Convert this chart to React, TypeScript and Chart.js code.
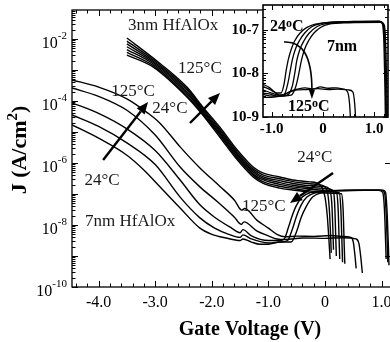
import React, { useEffect, useRef } from "react";
import { Chart, registerables } from "chart.js";

Chart.register(...registerables);

type Pt = [number, number]; // [gate voltage (V), log10 of J (A/cm^2)]

// ---------------- main panel: 3 nm HfAlOx, 125 °C (top) ... 24 °C (bottom) ----------------
const nm3_1: Pt[] = [[-3.5, -1.97], [-3.04, -2.61], [-2.44, -3.55], [-2.16, -4.19], [-1.86, -4.84], [-1.55, -5.58], [-1.27, -6.13], [-1.1, -6.32], [-0.8, -6.45], [-0.57, -6.55], [-0.27, -6.61], [-0.15, -6.64], [-0.05, -6.8], [0.0, -7.1], [0.04, -7.7], [0.07, -8.5], [0.09, -9.1]];
const nm3_2: Pt[] = [[-3.5, -2.07], [-3.04, -2.66], [-2.44, -3.6], [-2.16, -4.23], [-1.86, -4.9], [-1.55, -5.64], [-1.27, -6.19], [-1.1, -6.38], [-0.8, -6.51], [-0.57, -6.6], [-0.27, -6.67], [-0.1, -6.7], [0.0, -6.78], [0.05, -7.0], [0.08, -7.6], [0.1, -8.4], [0.11, -8.9]];
const nm3_3: Pt[] = [[-3.5, -2.16], [-3.04, -2.71], [-2.44, -3.65], [-2.16, -4.28], [-1.86, -4.95], [-1.55, -5.7], [-1.27, -6.24], [-1.1, -6.44], [-0.8, -6.57], [-0.57, -6.66], [-0.27, -6.73], [0.0, -6.76], [0.08, -6.85], [0.12, -7.3], [0.14, -8.2], [0.15, -8.8]];
const nm3_4: Pt[] = [[-3.5, -2.25], [-3.04, -2.75], [-2.44, -3.71], [-2.16, -4.32], [-1.86, -5.0], [-1.55, -5.74], [-1.27, -6.29], [-1.1, -6.49], [-0.8, -6.63], [-0.57, -6.72], [-0.27, -6.79], [0.0, -6.82], [0.14, -6.88], [0.17, -7.3], [0.19, -8.4], [0.2, -9.0]];
const nm3_5: Pt[] = [[-3.5, -2.34], [-3.04, -2.8], [-2.44, -3.76], [-2.16, -4.36], [-1.86, -5.05], [-1.55, -5.8], [-1.27, -6.35], [-1.1, -6.54], [-0.8, -6.69], [-0.57, -6.77], [-0.27, -6.84], [0.0, -6.88], [0.2, -6.93], [0.23, -7.4], [0.25, -8.5], [0.26, -9.1]];
const nm3_6: Pt[] = [[-3.5, -2.43], [-3.04, -2.85], [-2.44, -3.82], [-2.16, -4.41], [-1.86, -5.1], [-1.55, -5.85], [-1.27, -6.4], [-1.1, -6.6], [-0.8, -6.75], [-0.57, -6.82], [-0.27, -6.9], [0.0, -6.93], [0.25, -6.96], [0.28, -7.5], [0.3, -8.6], [0.31, -9.2]];
const nm3_7: Pt[] = [[-3.5, -2.52], [-3.04, -2.9], [-2.44, -3.87], [-2.16, -4.45], [-1.86, -5.16], [-1.55, -5.9], [-1.27, -6.45], [-1.1, -6.65], [-0.8, -6.81], [-0.57, -6.87], [-0.27, -6.94], [0.0, -6.97], [0.29, -6.99], [0.32, -7.5], [0.34, -8.7], [0.35, -9.25]];

// ---------------- main panel: 7 nm HfAlOx, 125 °C (top) ... 24 °C (bottom) ----------------
const nm7_1: Pt[] = [[-4.47, -3.32], [-4.0, -3.55], [-3.5, -3.93], [-3.13, -4.39], [-2.92, -4.71], [-2.56, -5.48], [-2.21, -6.16], [-1.86, -6.75], [-1.6, -7.2], [-1.47, -7.52], [-1.42, -7.47], [-1.2, -7.85], [-1.0, -8.1], [-0.85, -8.3], [-0.7, -8.38], [-0.5, -8.36], [-0.2, -8.37], [0.1, -8.34], [0.3, -8.37], [0.46, -8.4], [0.5, -8.55], [0.53, -9.0], [0.55, -9.4]];
const nm7_2: Pt[] = [[-4.47, -3.58], [-4.0, -3.85], [-3.5, -4.3], [-3.0, -5.1], [-2.56, -6.13], [-2.21, -6.77], [-1.9, -7.25], [-1.6, -7.75], [-1.48, -7.98], [-1.43, -7.9], [-1.2, -8.2], [-1.0, -8.35], [-0.85, -8.45], [-0.7, -8.47], [-0.4, -8.42], [0.0, -8.43], [0.3, -8.41], [0.55, -8.45], [0.6, -8.6], [0.63, -9.0], [0.66, -9.55]];
const nm7_3: Pt[] = [[-4.47, -4.06], [-4.0, -4.4], [-3.5, -4.9], [-3.0, -5.6], [-2.56, -6.55], [-2.21, -7.35], [-1.95, -7.75], [-1.65, -8.1], [-1.5, -8.25], [-1.45, -8.15], [-1.3, -8.35], [-1.0, -8.5], [-0.8, -8.5], [-0.72, -8.45], [-0.65, -8.1], [-0.58, -7.7], [-0.5, -7.35], [-0.4, -7.1], [-0.25, -6.95], [0.0, -6.9], [0.5, -6.88], [0.95, -6.88], [1.02, -6.95], [1.05, -7.5], [1.07, -8.5], [1.08, -9.1]];
const nm7_4: Pt[] = [[-4.47, -4.45], [-4.0, -4.82], [-3.5, -5.35], [-3.0, -6.05], [-2.56, -7.1], [-2.21, -7.77], [-1.95, -8.1], [-1.7, -8.3], [-1.5, -8.4], [-1.45, -8.32], [-1.3, -8.45], [-1.0, -8.58], [-0.8, -8.55], [-0.66, -8.5], [-0.58, -8.15], [-0.5, -7.7], [-0.42, -7.35], [-0.32, -7.1], [-0.15, -6.95], [0.1, -6.9], [0.6, -6.88], [1.0, -6.88], [1.05, -6.95], [1.08, -7.6], [1.1, -8.6], [1.11, -9.2]];
const nm7_5: Pt[] = [[-4.47, -4.77], [-4.0, -5.2], [-3.5, -5.75], [-3.21, -6.21], [-2.9, -6.8], [-2.56, -7.45], [-2.21, -8.1], [-2.0, -8.3], [-1.75, -8.42], [-1.5, -8.5], [-1.45, -8.45], [-1.3, -8.55], [-1.15, -8.62], [-1.0, -8.62], [-0.8, -8.55], [-0.6, -8.55], [-0.5, -8.2], [-0.42, -7.75], [-0.33, -7.4], [-0.22, -7.1], [-0.05, -6.95], [0.2, -6.9], [0.7, -6.88], [1.03, -6.88], [1.07, -6.95], [1.1, -7.7], [1.12, -8.7], [1.13, -9.3]];

// ---------------- inset: 7 nm, 24 °C (rising) and 125 °C (flat) ----------------
const in24_1: Pt[] = [[-1.17, -8.3], [-1.05, -8.36], [-0.9, -8.45], [-0.82, -8.45], [-0.76, -8.25], [-0.72, -7.95], [-0.68, -7.7], [-0.62, -7.45], [-0.55, -7.25], [-0.45, -7.08], [-0.32, -6.95], [-0.15, -6.87], [0.1, -6.83], [0.6, -6.81], [1.1, -6.8], [1.16, -6.86], [1.19, -7.3], [1.21, -8.3], [1.22, -9.2]];
const in24_2: Pt[] = [[-1.17, -8.38], [-1.0, -8.45], [-0.85, -8.5], [-0.75, -8.47], [-0.68, -8.2], [-0.64, -7.95], [-0.6, -7.7], [-0.54, -7.45], [-0.46, -7.25], [-0.36, -7.08], [-0.22, -6.93], [-0.05, -6.86], [0.3, -6.82], [1.1, -6.81], [1.18, -6.87], [1.21, -7.4], [1.23, -8.4], [1.24, -9.2]];
const in24_3: Pt[] = [[-1.17, -8.48], [-1.0, -8.52], [-0.85, -8.52], [-0.7, -8.5], [-0.6, -8.3], [-0.55, -8.0], [-0.51, -7.7], [-0.45, -7.45], [-0.37, -7.25], [-0.27, -7.08], [-0.12, -6.93], [0.05, -6.86], [0.4, -6.83], [1.12, -6.82], [1.2, -6.9], [1.23, -7.5], [1.25, -8.5], [1.26, -9.2]];
const in24_4: Pt[] = [[-1.17, -8.55], [-1.0, -8.55], [-0.8, -8.52], [-0.62, -8.5], [-0.53, -8.3], [-0.47, -8.0], [-0.42, -7.7], [-0.36, -7.45], [-0.28, -7.25], [-0.18, -7.08], [-0.04, -6.94], [0.12, -6.87], [0.5, -6.84], [1.12, -6.83], [1.18, -6.88], [1.2, -7.2], [1.22, -8.2], [1.23, -9.2]];
const in125_1: Pt[] = [[-1.17, -8.25], [-1.05, -8.32], [-0.95, -8.42], [-0.85, -8.5], [-0.75, -8.48], [-0.62, -8.4], [-0.5, -8.36], [-0.35, -8.33], [-0.2, -8.36], [-0.05, -8.31], [0.1, -8.34], [0.25, -8.33], [0.4, -8.36], [0.48, -8.42], [0.52, -8.7], [0.54, -9.1], [0.55, -9.4]];
const in125_2: Pt[] = [[-1.17, -8.45], [-1.05, -8.47], [-0.9, -8.52], [-0.8, -8.5], [-0.65, -8.43], [-0.5, -8.38], [-0.3, -8.37], [-0.1, -8.35], [0.1, -8.37], [0.3, -8.36], [0.5, -8.38], [0.58, -8.42], [0.62, -8.7], [0.64, -9.1], [0.65, -9.4]];

// ---------------- axis ticks / labels ----------------
const MAIN_X_TICKS = [-4, -3, -2, -1, 0, 1];
const MAIN_Y_LABEL_EXP = [-2, -4, -6, -8, -10];
const MAIN_RIGHT_TICK_EXP = [-3, -6, -9];
const INSET_X_TICKS = [-1, 0, 1];
const INSET_Y_EXP = [-7, -8, -9];

const SERIF = '"Liberation Serif", "Times New Roman", Times, serif';

// annotation anchors in data coordinates [V, log10 J]
const MAIN_TEXT: { text: string; at: Pt; align: CanvasTextAlign }[] = [
  { text: "3nm HfAlOx", at: [-3.48, -1.58], align: "left" },
  { text: "125°C", at: [-2.21, -2.94], align: "center" },
  { text: "24°C", at: [-2.74, -4.23], align: "center" },
  { text: "125°C", at: [-3.39, -3.71], align: "center" },
  { text: "24°C", at: [-3.94, -6.55], align: "center" },
  { text: "7nm HfAlOx", at: [-4.24, -7.9], align: "left" },
  { text: "24°C", at: [-0.18, -5.81], align: "center" },
  { text: "125°C", at: [-1.08, -7.42], align: "center" },
];
const MAIN_ARROWS: [Pt, Pt][] = [
  [[-2.385, -4.71], [-1.855, -3.74]],
  [[-3.92, -5.9], [-3.127, -4.03]],
  [[0.141, -6.32], [-0.618, -7.29]],
];
const INSET_TEXT: { parts: [string, boolean][]; at: Pt }[] = [
  { parts: [["24", false], ["o", true], ["C", false]], at: [-1.035, -6.94] },
  { parts: [["7nm", false]], at: [0.078, -7.39] },
  { parts: [["125", false], ["o", true], ["C", false]], at: [-0.683, -8.77] },
];
const INSET_ARROW: Pt[] = [[-0.761, -7.28], [-0.215, -7.234], [-0.215, -8.587]];

function toData(s: Pt[]) {
  return s.map(([v, l]) => ({ x: v, y: Math.pow(10, l) }));
}

function lineSet(s: Pt[], w = 1.4) {
  return {
    data: toData(s),
    borderColor: "#000",
    borderWidth: w,
    pointRadius: 0,
    fill: false,
    cubicInterpolationMode: "monotone" as const,
  };
}

function rich(
  ctx: CanvasRenderingContext2D,
  parts: [string, boolean][],
  x: number,
  y: number,
  align: string,
  size: number,
  supSize: number,
  bold: boolean,
  rise: number
) {
  const f = (sup: boolean) => `${bold ? "bold " : ""}${sup ? supSize : size}px ${SERIF}`;
  let total = 0;
  for (const [t, sup] of parts) {
    ctx.font = f(sup);
    total += ctx.measureText(t).width;
  }
  let cx = align === "left" ? x : align === "right" ? x - total : x - total / 2;
  ctx.textAlign = "left";
  ctx.textBaseline = "middle";
  for (const [t, sup] of parts) {
    ctx.font = f(sup);
    ctx.fillText(t, cx, sup ? y - rise : y);
    cx += ctx.measureText(t).width;
  }
}

function arrowHead(ctx: CanvasRenderingContext2D, x1: number, y1: number, ang: number, len: number, w: number) {
  const bx = x1 - len * Math.cos(ang);
  const by = y1 - len * Math.sin(ang);
  ctx.beginPath();
  ctx.moveTo(x1, y1);
  ctx.lineTo(bx + (w / 2) * Math.sin(ang), by - (w / 2) * Math.cos(ang));
  ctx.lineTo(bx - (w / 2) * Math.sin(ang), by + (w / 2) * Math.cos(ang));
  ctx.closePath();
  ctx.fill();
  return [bx, by];
}

const mainDecor = {
  id: "mainDecor",
  afterDraw(chart: any) {
    const { ctx, chartArea: a } = chart;
    const xs = chart.scales.x;
    const ys = chart.scales.y;
    const X = (v: number) => xs.getPixelForValue(v);
    const Y = (l: number) => ys.getPixelForValue(Math.pow(10, l));
    const top = Math.log10(ys.max);
    ctx.save();
    ctx.strokeStyle = "#000";
    ctx.fillStyle = "#000";
    ctx.lineWidth = 1.3;
    ctx.strokeRect(a.left, a.top, a.right - a.left, a.bottom - a.top);
    ctx.lineWidth = 1;
    ctx.beginPath();
    for (let k = -22; k <= 5; k++) {
      const px = Math.round(X(k / 5)) + 0.5;
      const len = k % 5 === 0 ? 6 : 3.5;
      ctx.moveTo(px, a.bottom);
      ctx.lineTo(px, a.bottom - len);
      ctx.moveTo(px, a.top);
      ctx.lineTo(px, a.top + len);
    }
    for (let d = -10; d <= -2; d++) {
      for (let m = 1; m <= 9; m++) {
        const l = d + Math.log10(m);
        if (l > top) continue;
        const py = Math.round(Y(l)) + 0.5;
        const len = m === 1 ? 6 : 3.5;
        ctx.moveTo(a.left, py);
        ctx.lineTo(a.left + len, py);
      }
    }
    for (const d of MAIN_RIGHT_TICK_EXP) {
      const py = Math.round(Y(d)) + 0.5;
      ctx.moveTo(a.right, py);
      ctx.lineTo(a.right - 6, py);
    }
    ctx.stroke();

    // y tick labels 10^n
    for (const e of MAIN_Y_LABEL_EXP) {
      const py = Y(e);
      rich(ctx, [["10", false], [String(e), true]], 67, py + 5, "right", 16, 11, false, 8);
    }

    // axis titles
    ctx.textAlign = "center";
    ctx.textBaseline = "middle";
    ctx.font = `bold 20px ${SERIF}`;
    ctx.fillText("Gate Voltage (V)", 250, 330);
    ctx.save();
    ctx.translate(20, 150);
    ctx.rotate(-Math.PI / 2);
    rich(ctx, [["J (A/cm", false], ["2", true], [")", false]], 0, 0, "center", 22, 15, true, 7);
    ctx.restore();

    // annotations
    ctx.fillStyle = "#1a1a1a";
    ctx.font = `17px ${SERIF}`;
    ctx.textBaseline = "middle";
    for (const t of MAIN_TEXT) {
      ctx.textAlign = t.align;
      ctx.fillText(t.text, X(t.at[0]), Y(t.at[1]));
    }
    ctx.fillStyle = "#000";
    ctx.strokeStyle = "#000";
    ctx.lineWidth = 2.4;
    for (const [p0, p1] of MAIN_ARROWS) {
      const x0 = X(p0[0]), y0 = Y(p0[1]), x1 = X(p1[0]), y1 = Y(p1[1]);
      const ang = Math.atan2(y1 - y0, x1 - x0);
      const [bx, by] = arrowHead(ctx, x1, y1, ang, 12, 10);
      ctx.beginPath();
      ctx.moveTo(x0, y0);
      ctx.lineTo(bx, by);
      ctx.stroke();
    }
    ctx.restore();
  },
};

const insetDecor = {
  id: "insetDecor",
  beforeDatasetsDraw(chart: any) {
    const { ctx, chartArea: a } = chart;
    ctx.save();
    ctx.fillStyle = "#fff";
    ctx.fillRect(a.left, a.top, a.right - a.left, a.bottom - a.top);
    ctx.restore();
  },
  afterDraw(chart: any) {
    const { ctx, chartArea: a } = chart;
    const xs = chart.scales.x;
    const ys = chart.scales.y;
    const X = (v: number) => xs.getPixelForValue(v);
    const Y = (l: number) => ys.getPixelForValue(Math.pow(10, l));
    const top = Math.log10(ys.max);
    ctx.save();
    ctx.strokeStyle = "#000";
    ctx.fillStyle = "#000";
    ctx.lineWidth = 1.6;
    ctx.strokeRect(a.left, a.top, a.right - a.left, a.bottom - a.top);
    ctx.lineWidth = 1;
    ctx.beginPath();
    for (let k = -5; k <= 6; k++) {
      const px = Math.round(X(k / 5)) + 0.5;
      const len = k % 5 === 0 ? 5 : 3;
      ctx.moveTo(px, a.bottom);
      ctx.lineTo(px, a.bottom - len);
      ctx.moveTo(px, a.top);
      ctx.lineTo(px, a.top + len);
    }
    for (let d = -9; d <= -7; d++) {
      for (let m = 1; m <= 9; m++) {
        const l = d + Math.log10(m);
        if (l > top) continue;
        const py = Math.round(Y(l)) + 0.5;
        const len = m === 1 ? 5 : 3;
        ctx.moveTo(a.left, py);
        ctx.lineTo(a.left + len, py);
        ctx.moveTo(a.right, py);
        ctx.lineTo(a.right - len, py);
      }
    }
    ctx.stroke();

    ctx.font = `bold 15px ${SERIF}`;
    ctx.textAlign = "right";
    ctx.textBaseline = "middle";
    for (const e of INSET_Y_EXP) {
      ctx.fillText(`10${e}`, a.left - 4, Y(e));
    }
    ctx.textAlign = "center";
    for (const v of INSET_X_TICKS) {
      ctx.fillText(v === 0 ? "0" : v.toFixed(1), X(v), a.bottom + 12);
    }

    for (const t of INSET_TEXT) {
      rich(ctx, t.parts, X(t.at[0]), Y(t.at[1]), "left", 16, 12, true, 3);
    }

    const [p0, p1, p2] = INSET_ARROW.map(([v, l]) => [X(v), Y(l)]);
    ctx.lineWidth = 1.6;
    const ang = Math.atan2(p2[1] - p1[1], p2[0] - p1[0]);
    const [bx, by] = arrowHead(ctx, p2[0], p2[1], ang, 9, 6);
    ctx.beginPath();
    ctx.moveTo(p0[0], p0[1]);
    ctx.quadraticCurveTo(p1[0], p1[1], bx, by);
    ctx.stroke();
    ctx.restore();
  },
};

function fixedAxis(size: number, horizontal: boolean) {
  return (s: any) => {
    if (horizontal) s.height = size;
    else s.width = size;
    s.paddingLeft = 0;
    s.paddingRight = 0;
    s.paddingTop = 0;
    s.paddingBottom = 0;
  };
}

export default function App() {
  const mainRef = useRef<HTMLCanvasElement>(null);
  const insetRef = useRef<HTMLCanvasElement>(null);

  useEffect(() => {
    const main = new Chart(mainRef.current as HTMLCanvasElement, {
      type: "line",
      data: {
        datasets: [nm3_1, nm3_2, nm3_3, nm3_4, nm3_5, nm3_6, nm3_7, nm7_1, nm7_2, nm7_3, nm7_4, nm7_5].map((s) => lineSet(s)),
      },
      options: {
        responsive: false,
        animation: false,
        devicePixelRatio: 1,
        events: [],
        layout: { padding: { left: 0, right: 2, top: 10, bottom: 0 } },
        plugins: { legend: { display: false }, tooltip: { enabled: false } },
        scales: {
          x: {
            type: "linear",
            min: -4.47,
            max: 1.166,
            grid: { display: false, drawTicks: false },
            border: { display: false },
            afterBuildTicks: (s: any) => {
              s.ticks = MAIN_X_TICKS.map((v) => ({ value: v }));
            },
            ticks: {
              autoSkip: false,
              maxRotation: 0,
              padding: 6,
              color: "#000",
              font: { family: SERIF, size: 16 },
              callback: (v: any) => (Number(v) === 0 ? "0" : Number(v).toFixed(1)),
            },
            afterFit: fixedAxis(55, true),
          },
          y: {
            type: "logarithmic",
            min: 1e-10,
            max: Math.pow(10, -1.065),
            grid: { display: false, drawTicks: false },
            border: { display: false },
            ticks: { display: false },
            afterFit: fixedAxis(72, false),
          },
        },
      } as any,
      plugins: [mainDecor],
    });

    const inset = new Chart(insetRef.current as HTMLCanvasElement, {
      type: "line",
      data: {
        datasets: [in24_1, in24_2, in24_3, in24_4, in125_1, in125_2].map((s) => lineSet(s, 1.3)),
      },
      options: {
        responsive: false,
        animation: false,
        devicePixelRatio: 1,
        events: [],
        layout: { padding: { left: 0, right: 2, top: 5, bottom: 0 } },
        plugins: { legend: { display: false }, tooltip: { enabled: false } },
        scales: {
          x: {
            type: "linear",
            min: -1.17,
            max: 1.27,
            grid: { display: false, drawTicks: false },
            border: { display: false },
            ticks: { display: false },
            afterFit: fixedAxis(225, true),
          },
          y: {
            type: "logarithmic",
            min: 1e-9,
            max: Math.pow(10, -6.431),
            grid: { display: false, drawTicks: false },
            border: { display: false },
            ticks: { display: false },
            afterFit: fixedAxis(263, false),
          },
        },
      } as any,
      plugins: [insetDecor],
    });

    return () => {
      main.destroy();
      inset.destroy();
    };
  }, []);

  return (
    <div
      style={{
        position: "fixed",
        left: 0,
        top: 0,
        width: 390,
        height: 342,
        overflow: "hidden",
        background: "#fff",
      }}
    >
      <canvas
        ref={mainRef}
        width={393}
        height={342}
        style={{ position: "absolute", left: 0, top: 0, width: 393, height: 342 }}
      />
      <canvas
        ref={insetRef}
        width={390}
        height={342}
        style={{ position: "absolute", left: 0, top: 0, width: 390, height: 342, pointerEvents: "none" }}
      />
    </div>
  );
}
